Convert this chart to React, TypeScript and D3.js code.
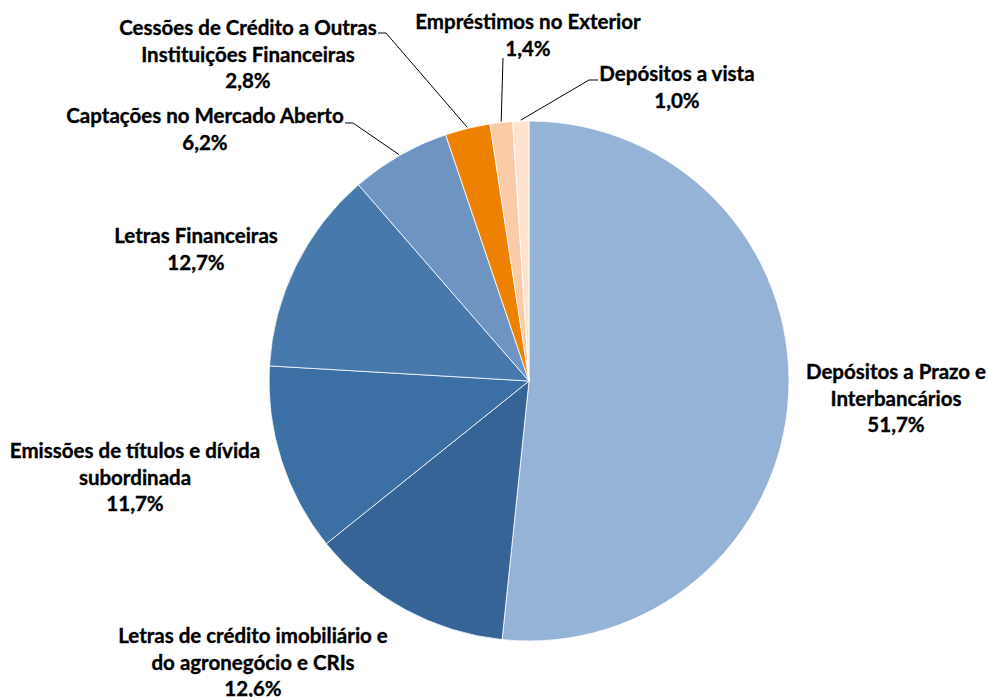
import React from "react";
import * as d3 from "d3";

const categories = [
  "Depósitos a Prazo e Interbancários",
  "Letras de crédito imobiliário e do agronegócio e CRIs",
  "Emissões de títulos e dívida subordinada",
  "Letras Financeiras",
  "Captações no Mercado Aberto",
  "Cessões de Crédito a Outras Instituições Financeiras",
  "Empréstimos no Exterior",
  "Depósitos a vista",
];
const values = [51.7, 12.6, 11.7, 12.7, 6.2, 2.8, 1.4, 1.0];
const valueLabels = ["51,7%", "12,6%", "11,7%", "12,7%", "6,2%", "2,8%", "1,4%", "1,0%"];
const labelLines = [
  ["Depósitos a Prazo e", "Interbancários"],
  ["Letras de crédito imobiliário e", "do agronegócio e CRIs"],
  ["Emissões de títulos e dívida", "subordinada"],
  ["Letras Financeiras"],
  ["Captações no Mercado Aberto"],
  ["Cessões de Crédito a Outras", "Instituições Financeiras"],
  ["Empréstimos no Exterior"],
  ["Depósitos a vista"],
];
const colors = ["#95B3D7", "#366496", "#3C6FA3", "#4779AD", "#6E94C1", "#EE8200", "#FBCBA7", "#FDE3D0"];

// layout: label block centre x, first line baseline y
const labelPos: [number, number][] = [
  [896, 379],
  [253, 643],
  [135, 458],
  [196, 243],
  [205, 123],
  [248, 35],
  [528, 29],
  [677, 81],
];
// leader lines: [start of line near label, elbow]
const leaders: (null | [[number, number], [number, number]])[] = [
  null,
  null,
  null,
  null,
  [[345, 123], [353, 123]],
  [[378, 33], [386, 33]],
  [[503, 58], [503, 58]],
  [[598, 80], [589, 80]],
];

export default function App() {
  const width = 988;
  const height = 697;
  const cx = 529;
  const cy = 381;
  const r = 260;
  const lineH = 26.5;

  const pie = d3
    .pie<number>()
    .sort(null)
    .value((d) => d)(values);
  const arc = d3.arc<d3.PieArcDatum<number>>().innerRadius(0).outerRadius(r);

  return (
    <svg
      width={width}
      height={height}
      style={{ position: "absolute", left: 0, top: 0, background: "#fff" }}
    >
      <g transform={`translate(${cx},${cy})`}>
        {pie.map((p, i) => (
          <path key={i} d={arc(p) || ""} fill={colors[i]} stroke="#fff" strokeWidth={0.8} />
        ))}
      </g>
      {pie.map((p, i) => {
        const ld = leaders[i];
        if (!ld) return null;
        const mid = (p.startAngle + p.endAngle) / 2;
        const ex = cx + Math.sin(mid) * (r + 1);
        const ey = cy - Math.cos(mid) * (r + 1);
        return (
          <polyline
            key={"l" + i}
            points={`${ld[0][0]},${ld[0][1]} ${ld[1][0]},${ld[1][1]} ${ex},${ey}`}
            fill="none"
            stroke="#000"
            strokeWidth={1}
          />
        );
      })}
      {categories.map((c, i) => {
        const lines = [...labelLines[i], valueLabels[i]];
        const [x, y] = labelPos[i];
        return (
          <text
            key={"t" + i}
            x={x}
            y={y}
            textAnchor="middle"
            fontFamily="Lato, 'Open Sans', sans-serif"
            fontWeight={700}
            fontSize={20.5}
            fill="#000"
            stroke="#000"
            strokeWidth={0.35}
          >
            {lines.map((ln, j) => (
              <tspan key={j} x={x} y={y + j * lineH}>
                {ln}
              </tspan>
            ))}
          </text>
        );
      })}
    </svg>
  );
}
